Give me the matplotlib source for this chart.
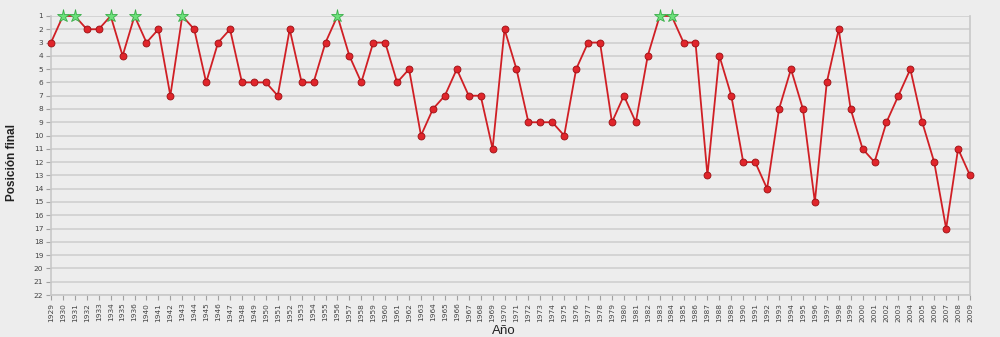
import matplotlib
matplotlib.use("Agg")
import matplotlib.pyplot as plt
import numpy as np

years = [1929, 1930, 1931, 1932, 1933, 1934, 1935, 1936] + list(range(1940, 2010))
positions = [3, 1, 1, 2, 2, 1, 4, 1,
             3, 2, 7, 1, 2, 6, 3, 2, 6, 6,
             6, 7, 2, 6, 6, 3, 1, 4, 6, 3,
             3, 6, 5, 10, 8, 7, 5, 7, 7, 11,
             2, 5, 9, 9, 9, 10, 5, 3, 3, 9,
             7, 9, 4, 1, 1, 3, 3, 13, 4, 7,
             12, 12, 14, 8, 5, 8, 15, 6, 2, 8,
             11, 12, 9, 7, 5, 9, 12, 17, 11, 13]
y_ticks = list(range(1, 23))

bg = "#EDEDED"
fig = plt.figure(figsize=(10, 3.37), dpi=100, facecolor=bg)
ax = fig.add_axes([0.051, 0.1246, 0.919, 0.828])
ax.set_facecolor(bg)

x = np.arange(len(years))
pos = np.array(positions)
ax.plot(x, pos, color="#D01F25", lw=1.3, zorder=3, clip_on=False)
m = pos != 1
ax.plot(x[m], pos[m], ls="none", marker="o", ms=5, mfc="#E0252B",
        mec="#9A1014", mew=0.6, zorder=4, clip_on=False)
ax.plot(x[~m], pos[~m], ls="none", marker="*", ms=9.5, mfc="#6BE07A",
        mec="#3AAE4A", mew=0.6, zorder=5, clip_on=False)

ax.set_xlim(0, len(years) - 1)
ax.set_ylim(22, 1)
ax.set_yticks(y_ticks)
ax.set_yticklabels([str(v) for v in y_ticks])
ax.set_xticks(x)
ax.set_xticklabels([str(v) for v in years], rotation=90)
ax.tick_params(axis="both", labelsize=5.3, colors="#A0A0A0", labelcolor="#444444",
               length=3.5, width=0.8, direction="out")
ax.tick_params(axis="x", pad=2)
ax.tick_params(axis="y", pad=2)
ax.grid(axis="y", color="#CFCFCF", lw=1.2, zorder=1)
ax.set_axisbelow(True)
for s in ["left", "bottom", "right", "top"]:
    ax.spines[s].set_color("#C8C8C8")
    ax.spines[s].set_linewidth(1.2)
ax.spines["top"].set_visible(False)

fig.text(0.012, 1 - 163 / 337, "Posición final", rotation=90, fontsize=8.5,
         fontweight="bold", family="Liberation Sans", color="#222222",
         ha="center", va="center")
fig.text(0.504, 1 - 331 / 337, "Año", fontsize=9.5, family="Liberation Sans",
         color="#222222", ha="center", va="center")

fig.savefig("out.png", dpi=100, facecolor=bg)
